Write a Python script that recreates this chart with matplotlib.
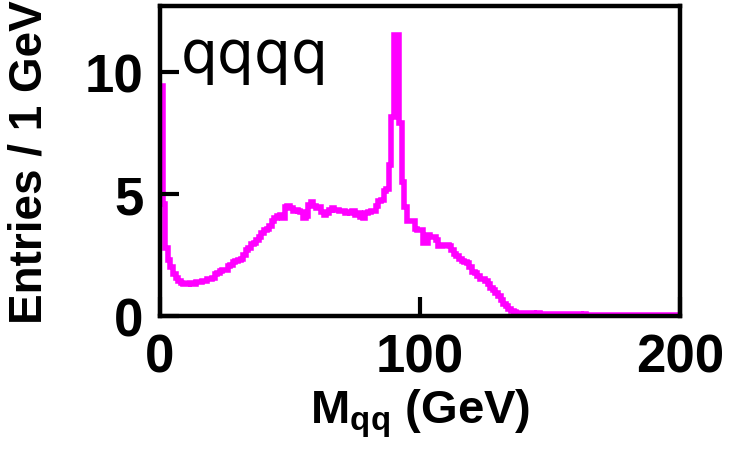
import numpy as np
import matplotlib
matplotlib.use("Agg")
import matplotlib.pyplot as plt

# Histogram: entries per 1 GeV bin, M_qq from 0 to 200 GeV
bin_edges = list(range(0, 201))
entries = [
    9.4, 4.6, 2.8, 2.3, 2.0, 1.7, 1.55, 1.45, 1.35, 1.3,
    1.3, 1.35, 1.3, 1.3, 1.4, 1.4, 1.45, 1.45, 1.5, 1.5,
    1.55, 1.7, 1.75, 1.85, 1.9, 1.9, 2.05, 2.1, 2.2, 2.25,
    2.3, 2.35, 2.5, 2.7, 2.8, 2.95, 3.0, 3.1, 3.25, 3.4,
    3.5, 3.55, 3.7, 3.9, 4.0, 4.1, 4.15, 4.0, 4.45, 4.5,
    4.4, 4.3, 4.35, 4.3, 4.25, 4.0, 4.1, 4.55, 4.65, 4.5,
    4.4, 4.45, 4.25, 4.15, 4.2, 4.35, 4.4, 4.35, 4.35, 4.3,
    4.3, 4.2, 4.25, 4.2, 4.3, 4.15, 4.2, 4.05, 4.0, 4.2,
    4.25, 4.3, 4.3, 4.5, 4.7, 4.75, 5.1, 5.2, 6.2, 8.15,
    11.5, 11.5, 7.9, 5.5, 4.45, 3.9, 3.9, 3.9, 3.55, 3.5,
    3.5, 3.0, 3.0, 3.3, 3.25, 3.25, 3.1, 2.85, 2.85, 2.9,
    2.9, 2.85, 2.7, 2.55, 2.45, 2.35, 2.25, 2.2, 2.15, 2.0,
    1.8, 1.75, 1.65, 1.5, 1.5, 1.45, 1.3, 1.15, 1.05, 0.95,
    0.8, 0.65, 0.5, 0.4, 0.3, 0.2, 0.15, 0.13, 0.12, 0.12,
    0.12, 0.11, 0.12, 0.11, 0.10, 0.11, 0.10, 0.10, 0.09, 0.10,
    0.09, 0.09, 0.08, 0.09, 0.08, 0.08, 0.08, 0.07, 0.08, 0.07,
    0.07, 0.07, 0.06, 0.07, 0.06, 0.06, 0.06, 0.05, 0.06, 0.05,
    0.05, 0.05, 0.05, 0.04, 0.05, 0.04, 0.04, 0.04, 0.04, 0.04,
    0.04, 0.03, 0.04, 0.03, 0.03, 0.03, 0.03, 0.03, 0.03, 0.03,
    0.03, 0.03, 0.03, 0.02, 0.03, 0.02, 0.02, 0.02, 0.02, 0.02,
]
x_ticks = [0, 100, 200]
y_ticks = [0, 5, 10]
channel_label = "qqqq"
x_label = r"M$_{\mathbf{qq}}$ (GeV)"
y_label = "Entries / 1 GeV"

plt.rcParams["mathtext.fontset"] = "custom"
plt.rcParams["mathtext.bf"] = "Liberation Sans:bold"
plt.rcParams["mathtext.rm"] = "Liberation Sans:bold"

fig = plt.figure(figsize=(7.3, 4.52), dpi=100)
ax = fig.add_axes([0.2192, 0.2987, 0.7123, 0.6865])

ax.stairs(entries, bin_edges, color="#ff00ff", linewidth=4.0, baseline=None)

ax.set_xlim(0, 200)
ax.set_ylim(0, 12.7)
ax.set_xticks(x_ticks)
ax.set_yticks(y_ticks)

for s in ax.spines.values():
    s.set_linewidth(3.2)
    s.set_color("black")

ax.tick_params(axis="both", direction="in", length=14, width=3, pad=12,
               labelsize=38, top=False, right=False)
for lab in ax.get_xticklabels() + ax.get_yticklabels():
    lab.set_fontfamily("Liberation Sans")
    lab.set_fontweight("bold")

ax.set_xlabel(x_label, fontsize=34, fontweight="bold", family="Liberation Sans",
              labelpad=3)
ax.set_ylabel(y_label, fontsize=33, fontweight="bold", family="Liberation Sans",
              labelpad=24)

ax.text(0.04, 0.787, channel_label, transform=ax.transAxes, fontsize=42,
        family="DejaVu Sans", va="baseline", ha="left")

fig.savefig("out.png", dpi=100)
